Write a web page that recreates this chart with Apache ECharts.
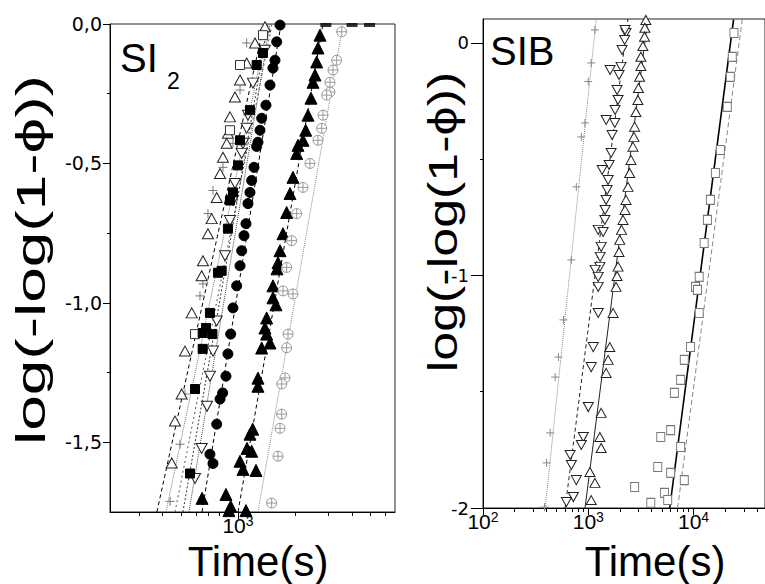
<!DOCTYPE html>
<html><head><meta charset="utf-8">
<script src="https://cdn.jsdelivr.net/npm/echarts@6/dist/echarts.min.js"></script>
<style>html,body{margin:0;padding:0;background:#fff}#c{width:765px;height:584px}</style>
</head><body><div id="c"></div>
<script>
// ===== Panel SI2: [time (s), log(-log(1-phi))] =====
const si2OpenUp = [[1388,-0.01],[1230,-0.068],[1111,-0.14],[1025,-0.201],[964,-0.262],[907,-0.333],[885,-0.392],[872,-0.428],[833,-0.478],[804,-0.536],[772,-0.622],[726,-0.698],[694,-0.752],[653,-0.849],[643,-0.903],[570,-1.036],[525,-1.173],[504,-1.327],[465,-1.424],[447,-1.574]];
const si2Minus = [[1111,-0.068],[1025,-0.237],[941,-0.428],[833,-0.514],[738,-0.597],[694,-0.68],[653,-0.932],[630,-0.975],[525,-1.327],[494,-1.507],[438,-1.712]];
const si2OpenSq = [[1355,-0.04],[1025,-0.147],[907,-0.381],[593,-1.112]];
const si2Sq = [[1355,-0.104],[1255,-0.147],[1157,-0.309],[1025,-0.417],[1000,-0.507],[941,-0.604],[907,-0.633],[885,-0.734],[820,-0.885],[784,-0.892],[711,-1.036],[678,-1.09],[733,-1.112],[651,-1.108],[651,-1.165],[593,-1.309],[558,-1.612]];
const si2Down = [[1388,-0.094],[1200,-0.212],[1129,-0.327],[1111,-0.374],[1063,-0.428],[1046,-0.464],[964,-0.572],[941,-0.633],[907,-0.705],[854,-0.831],[772,-1.065],[738,-1.173],[711,-1.263],[686,-1.371],[643,-1.522],[593,-1.63]];
const si2Circle = [[1667,-0.004],[1601,-0.064],[1568,-0.13],[1530,-0.158],[1476,-0.219],[1405,-0.291],[1334,-0.338],[1307,-0.381],[1275,-0.424],[1255,-0.439],[1215,-0.514],[1181,-0.561],[1157,-0.604],[1129,-0.644],[1102,-0.716],[1076,-0.759],[1046,-0.813],[1025,-0.867],[984,-0.939],[941,-1.018],[915,-1.112],[885,-1.183],[864,-1.263],[830,-1.323],[804,-1.345],[772,-1.435],[711,-1.543],[738,-1.576]];
const si2Tri = [[2710,-0.04],[2645,-0.086],[2603,-0.136],[2550,-0.183],[2489,-0.209],[2429,-0.266],[2342,-0.327],[2278,-0.381],[2204,-0.417],[2074,-0.435],[2041,-0.464],[1951,-0.55],[1882,-0.608],[1807,-0.676],[1728,-0.752],[1667,-0.813],[1627,-0.856],[1607,-0.878],[1530,-0.939],[1530,-0.982],[1587,-1.007],[1417,-1.054],[1388,-1.09],[1417,-1.112],[1476,-1.144],[1334,-1.162],[1275,-1.27],[1275,-1.299],[1196,-1.453],[1157,-1.471],[1116,-1.522],[1181,-1.532],[1025,-1.568],[1063,-1.597],[1245,-1.601],[864,-1.687],[915,-1.73],[646,-1.701],[1102,-1.745],[896,-1.745]];
const si2Cross = [[3528,-0.028],[3319,-0.13],[3173,-0.165],[3060,-0.209],[3060,-0.244],[2940,-0.255],[2811,-0.327],[2766,-0.374],[2645,-0.417],[2399,-0.5],[2204,-0.586],[2041,-0.68],[1920,-0.777],[1807,-0.873],[1728,-0.957],[1951,-0.968],[1837,-1.112],[1807,-1.161],[1771,-1.269],[1701,-1.291],[1701,-1.399],[1667,-1.45],[1627,-1.55],[1506,-1.718]];
const si2Saturated = [2910, 4000, 4950];
// fitted lines (end points)
const si2FitOpenUp = [[373,-1.75],[1372,0]];
const si2FitMinus = [[417,-1.75],[1440,0]];
const si2FitOpenSq = [[465,-1.75],[1512,0]];
const si2FitSq = [[512,-1.75],[1440,0]];
const si2FitDown = [[551,-1.75],[1476,0]];
const si2FitCircle = [[646,-1.75],[1687,0]];
const si2FitTri = [[1000,-1.75],[2811,0]];
const si2FitCross = [[1275,-1.75],[3584,0]];
// axis ticks
const si2XRange = [211, 6745];
const si2XMajor = [1000];
const si2XMinor = [300,400,500,600,700,800,900,2000,3000,4000,5000,6000];
const si2YRange = [-1.75, 0];
const si2YLabels = [0,-0.5,-1,-1.5];
const si2YMinor = [-0.25,-0.75,-1.25];

// ===== Panel SIB =====
const sibPlus = [[1157,0.056],[1067,-0.086],[1000,-0.166],[931,-0.344],[859,-0.404],[770,-0.619],[691,-0.933],[581,-1.191],[521,-1.351],[485,-1.437],[435,-1.677],[402,-1.806],[384,-1.996]];
const sibDown = [[2283,0.043],[2234,0.056],[2218,0.013],[2094,-0.03],[2048,-0.103],[1961,-0.138],[1612,-0.116],[1877,-0.202],[1919,-0.245],[1798,-0.288],[1479,-0.331],[1786,-0.344],[1684,-0.396],[1648,-0.473],[1578,-0.525],[1355,-0.546],[1544,-0.589],[1511,-0.632],[1478,-0.675],[1446,-0.718],[1437,-0.761],[1243,-0.804],[1385,-0.813],[1326,-0.877],[1298,-0.92],[1289,-0.963],[1164,-0.976],[1243,-1.006],[1243,-1.049],[1243,-1.161],[1115,-1.308],[1067,-1.394],[1000,-1.566],[897,-1.695],[859,-1.729],[672,-1.772],[691,-1.815],[770,-1.88],[722,-1.953],[620,-1.974]];
const sibUp = [[3525,0.099],[3449,0.065],[3427,0.027],[3303,-0.013],[3162,-0.059],[3162,-0.099],[3074,-0.145],[2995,-0.194],[2963,-0.245],[2837,-0.297],[2758,-0.36],[2716,-0.404],[2658,-0.446],[2544,-0.503],[2474,-0.559],[2384,-0.619],[2283,-0.675],[2234,-0.718],[2138,-0.761],[2070,-0.804],[1991,-0.847],[1961,-0.899],[1919,-0.962],[1877,-1.002],[1837,-1.049],[1721,-1.161],[1602,-1.308],[1544,-1.363],[1478,-1.419],[1326,-1.591],[1289,-1.695],[1326,-1.742],[1037,-1.845],[1157,-1.892],[1067,-1.966]];
const sibSq = [[24210,0.043],[23330,-0.06],[22340,-0.146],[20940,-0.275],[17980,-0.46],[16130,-0.559],[14460,-0.675],[13550,-0.761],[12620,-0.86],[11320,-1.006],[10440,-1.049],[10910,-1.062],[11320,-1.161],[9370,-1.308],[8170,-1.363],[7541,-1.449],[6576,-1.505],[6067,-1.665],[4884,-1.695],[7541,-1.738],[4571,-1.824],[6067,-1.849],[8170,-1.88],[2758,-1.91],[5292,-1.935],[3928,-1.978],[5684,-1.966]];
const sibFitPlus = [[390,-2],[1190,0.103]];
const sibFitDown = [[603,-2],[2384,0.103]];
const sibFitUp = [[931,-2],[3681,0.103]];
const sibFitBlack = [[5937,-2],[24000,0.1]];
const sibFitGray = [[7063,-2],[29000,0.1]];
const sibXRange = [100, 47750];
const sibXMajor = [100,1000,10000];
const sibXMinor = [200,300,400,500,600,700,800,900,2000,3000,4000,5000,6000,7000,8000,9000,20000,30000,40000];
const sibYRange = [-2, 0.103];
const sibYLabels = [0,-1,-2];
const sibYMinor = [-0.5,-1.5];

// ===== build =====
const lg = v => Math.log10(v);
const L = a => a.map(p => [lg(p[0]), p[1]]);
const FONT = '"Liberation Sans", Arial, sans-serif';
const WFONT = '"DejaVu Sans", Verdana, sans-serif';
const xFmt = v => '{a|10}{b|' + Math.round(v) + '}';
const triDown = 'path://M0,0L10,0L5,9Z';
const crossCircle = 'path://M0,5A5,5,0,1,0,10,5A5,5,0,1,0,0,5ZM5,0L5,10M0,5L10,5';
const plusSym = 'path://M5,0L5,10M0,5L10,5';
const dashSym = 'path://M0,5L10,5M5,3L5,7';

function xAxes(g, range, major, minor) {
  const base = {gridIndex:g, type:'value', position:'bottom', min:lg(range[0]), max:lg(range[1]), splitLine:{show:false}};
  return [
    Object.assign({}, base, {axisLine:{show:true, onZero:false, lineStyle:{color:'#000'}},
      axisTick:{show:true, customValues:minor.map(lg), length:4, lineStyle:{color:'#000'}},
      axisLabel:{show:true, customValues:major.map(lg), formatter:xFmt, color:'#000', margin:2,
        rich:{a:{fontSize:21, fontFamily:FONT, color:'#000'}, b:{fontSize:14, fontFamily:FONT, color:'#000', verticalAlign:'top', padding:[0,0,9,0]}}}}),
    Object.assign({}, base, {axisLine:{show:false, onZero:false},
      axisTick:{show:true, customValues:major.map(lg), length:7, lineStyle:{color:'#000'}},
      axisLabel:{show:false}})
  ];
}
function yAxes(g, range, labels, minor, fmt, majLen, margin, fs) {
  const base = {gridIndex:g, type:'value', position:'left', min:range[0], max:range[1], splitLine:{show:false}};
  return [
    Object.assign({}, base, {axisLine:{show:true, onZero:false, lineStyle:{color:'#000'}},
      axisTick:{show:true, customValues:minor, length:3, lineStyle:{color:'#000'}},
      axisLabel:{show:true, customValues:labels, formatter:fmt, fontSize:fs, color:'#000', fontFamily:WFONT, margin:margin}}),
    Object.assign({}, base, {axisLine:{show:false, onZero:false},
      axisTick:{show:true, customValues:labels, length:majLen, lineStyle:{color:'#000'}},
      axisLabel:{show:false}})
  ];
}
function fit(xi, yi, data, color, type, width) {
  return {type:'line', xAxisIndex:xi, yAxisIndex:yi, data:L(data), symbol:'none', silent:true, z:1,
    lineStyle:{color:color, type:type, width:width||1}, clip:true, animation:false};
}
function sc(xi, yi, data, symbol, size, fill, stroke, extra) {
  return Object.assign({type:'scatter', xAxisIndex:xi, yAxisIndex:yi, data:L(data), symbol:symbol, symbolSize:size,
    itemStyle:{color:fill, borderColor:stroke, borderWidth:1, opacity:1}, clip:true, z:3, animation:false}, extra||{});
}

const chart = echarts.init(document.getElementById('c'), null, {renderer:'svg'});
chart.setOption({
  backgroundColor:'#fff',
  animation:false,
  grid:[
    {left:110, top:24, width:285, height:488, show:true, borderColor:'#222', borderWidth:1, backgroundColor:'transparent'},
    {left:483, top:19, width:284, height:489, show:true, borderColor:'#222', borderWidth:1, backgroundColor:'transparent'}
  ],
  xAxis: xAxes(0, si2XRange, si2XMajor, si2XMinor).concat(xAxes(1, sibXRange, sibXMajor, sibXMinor)),
  yAxis: yAxes(0, si2YRange, si2YLabels, si2YMinor, v => v.toFixed(1).replace('.', ','), 7, 8, 19)
    .concat(yAxes(1, sibYRange, sibYLabels, sibYMinor, v => String(Math.round(v)), 12, 14, 18)),
  series:[
    fit(0,0,si2FitOpenUp,'#000',[4,3]),
    fit(0,0,si2FitMinus,'#777','dotted'),
    fit(0,0,si2FitOpenSq,'#555',[2,3]),
    fit(0,0,si2FitSq,'#333',[2,2]),
    fit(0,0,si2FitDown,'#444','dotted'),
    fit(0,0,si2FitCircle,'#000',[4,3]),
    fit(0,0,si2FitTri,'#000',[4,3]),
    fit(0,0,si2FitCross,'#888','dotted'),
    sc(0,0,si2Minus,dashSym,[9,9],'none','#777'),
    sc(0,0,si2OpenUp,'triangle',[11,10],'#fff','#222'),
    sc(0,0,si2OpenSq,'rect',[9,9],'#fff','#333'),
    sc(0,0,si2Down,triDown,[11,10],'#fff','#222'),
    sc(0,0,si2Sq,'rect',[9,9],'#000','#000'),
    sc(0,0,si2Circle,'circle',10,'#000','#000'),
    sc(0,0,si2Tri,'triangle',[12,12],'#000','#000'),
    sc(0,0,si2Cross,crossCircle,[10,10],'#fff','#999'),
    {type:'scatter', xAxisIndex:0, yAxisIndex:0, data:si2Saturated.map(t => [lg(t), 0]), symbol:'rect', symbolSize:[11,4], symbolOffset:[0,1],
      itemStyle:{color:'#000'}, clip:false, z:3, animation:false},

    fit(2,2,sibFitPlus,'#888','dotted'),
    fit(2,2,sibFitDown,'#222',[4,3]),
    fit(2,2,sibFitUp,'#222','solid'),
    fit(2,2,sibFitGray,'#888',[5,3]),
    fit(2,2,sibFitBlack,'#000','solid',1.6),
    sc(2,2,sibPlus,plusSym,[8,8],'none','#888'),
    sc(2,2,sibDown,triDown,[10,9],'#fff','#222'),
    sc(2,2,sibUp,'triangle',[10,9],'#fff','#222'),
    sc(2,2,sibSq,'rect',[8,9],'#fff','#777')
  ],
  graphic:[
    {type:'text', x:120, y:58, style:{text:'SI', font:'40px '+FONT, fill:'#000', align:'left', verticalAlign:'middle'}},
    {type:'text', x:167, y:81, style:{text:'2', font:'23px '+FONT, fill:'#000', align:'left', verticalAlign:'middle'}},
    {type:'text', x:490, y:51, style:{text:'SIB', font:'40px '+FONT, fill:'#000', align:'left', verticalAlign:'middle'}},
    {type:'text', x:258, y:561, style:{text:'Time(s)', font:'42px '+FONT, fill:'#000', align:'center', verticalAlign:'middle'}},
    {type:'text', x:655, y:561, style:{text:'Time(s)', font:'42px '+FONT, fill:'#000', align:'center', verticalAlign:'middle'}},
    {type:'text', x:31, y:260, rotation:Math.PI/2, scaleX:1.6, style:{text:'log(-log(1-\u03d5))', font:'40px '+FONT, fill:'#000', align:'center', verticalAlign:'middle'}},
    {type:'text', x:443, y:222, rotation:Math.PI/2, scaleX:1.3, style:{text:'log(-log(1-\u03d5))', font:'40px '+FONT, fill:'#000', align:'center', verticalAlign:'middle'}}
  ]
});
</script></body></html>
